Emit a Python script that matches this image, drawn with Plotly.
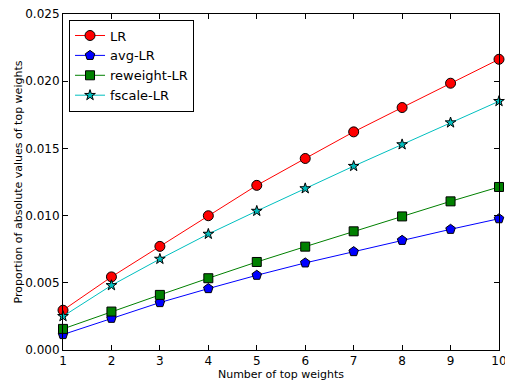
import plotly.graph_objects as go

n_weights = [1, 2, 3, 4, 5, 6, 7, 8, 9, 10]
lr = [0.00296, 0.00544, 0.00771, 0.00999, 0.01225, 0.01425, 0.01623, 0.01804, 0.01985, 0.02163]
avg_lr = [0.00115, 0.00236, 0.00353, 0.00457, 0.00556, 0.00648, 0.00732, 0.00816, 0.00898, 0.00977]
reweight_lr = [0.00157, 0.00286, 0.0041, 0.00534, 0.00655, 0.00769, 0.00883, 0.00994, 0.01106, 0.01213]
fscale_lr = [0.00251, 0.00481, 0.00677, 0.00863, 0.01034, 0.01202, 0.01368, 0.01529, 0.01692, 0.01851]

series = [
    ("LR", lr, "#ff0000", "circle", 10),
    ("avg-LR", avg_lr, "#0000ff", "pentagon", 10),
    ("reweight-LR", reweight_lr, "#008000", "square", 9),
    ("fscale-LR", fscale_lr, "#00bfbf", "star", 8),
]

fig = go.Figure()
for name, vals, color, sym, size in series:
    fig.add_trace(go.Scatter(
        x=n_weights, y=vals, name=name, mode="lines+markers",
        line=dict(color=color, width=1),
        marker=dict(symbol=sym, size=size, color=color,
                    line=dict(color="black", width=1)),
        cliponaxis=False,
    ))

axis_common = dict(
    showline=True, linecolor="black", linewidth=1, mirror="allticks",
    ticks="inside", ticklen=5, tickcolor="black", showgrid=False,
    zeroline=False, ticklabeloverflow="allow", automargin=False,
    tickfont=dict(family="DejaVu Sans", size=12, color="black"),
)

fig.update_layout(
    width=505, height=385,
    margin=dict(l=63, r=6, t=14, b=35),
    paper_bgcolor="white", plot_bgcolor="white",
    font=dict(family="DejaVu Sans", color="black"),
    xaxis=dict(range=[1, 10], tickvals=n_weights,
               title=dict(text="Number of top weights", font=dict(size=11), standoff=1),
               **axis_common),
    yaxis=dict(range=[0, 0.025], tickvals=[0, 0.005, 0.01, 0.015, 0.02, 0.025],
               tickformat=".3f",
               title=dict(text="Proportion of absolute values of top weights",
                          font=dict(size=11), standoff=0),
               **axis_common),
    legend=dict(x=0.0138, y=0.9835, xanchor="left", yanchor="top",
                bordercolor="black", borderwidth=1, bgcolor="white",
                font=dict(size=13, family="DejaVu Sans"),
                tracegroupgap=0, itemwidth=30),
    showlegend=True,
)

fig.write_html("out.html")
